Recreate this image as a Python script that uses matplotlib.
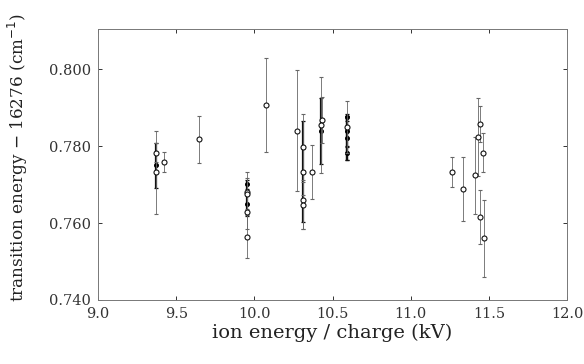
import matplotlib
matplotlib.use('Agg')
import matplotlib.pyplot as plt

# open circles, thin error bars
OPEN_X = [9.371, 9.371, 9.424, 9.644, 9.951, 9.951, 9.951, 9.951, 10.075,
          10.275, 10.313, 10.313, 10.313, 10.313, 10.371, 10.431, 10.424,
          10.591, 11.262, 11.337, 11.414, 11.429, 11.444, 11.461, 11.446, 11.467]
OPEN_Y = [0.7732, 0.7783, 0.7760, 0.7818, 0.7682, 0.7677, 0.7629, 0.7564, 0.7907,
          0.7841, 0.7798, 0.7733, 0.7660, 0.7646, 0.7733, 0.7868, 0.7856,
          0.7850, 0.7733, 0.7689, 0.7724, 0.7824, 0.7858, 0.7783, 0.7616, 0.7560]
OPEN_ERR = [0.0107, 0.0025, 0.0026, 0.0062, 0.0051, 0.0040, 0.0045, 0.0056, 0.0123,
            0.0157, 0.0087, 0.0060, 0.0076, 0.0062, 0.0071, 0.0060, 0.0125,
            0.0068, 0.0040, 0.0084, 0.0101, 0.0102, 0.0048, 0.0051, 0.0070, 0.0100]

# filled dots, heavy error bars
FILL_X = [9.371, 9.951, 9.951, 10.313, 10.428, 10.591, 10.591, 10.591, 10.591]
FILL_Y = [0.7750, 0.7701, 0.7649, 0.7734, 0.7840, 0.7875, 0.7839, 0.7822, 0.7783]
FILL_ERR = [0.0058, 0.0012, 0.0030, 0.0131, 0.0085, 0.0010, 0.0040, 0.0057, 0.0018]

XTICKS = [9.0, 9.5, 10.0, 10.5, 11.0, 11.5, 12.0]
YTICKS = [0.740, 0.760, 0.780, 0.800]

plt.rcParams['font.family'] = 'DejaVu Serif'

fig = plt.figure(figsize=(5.84, 3.64), dpi=100, facecolor='white')
ax = fig.add_axes([0.168, 0.176, 0.803, 0.744])

ax.errorbar(FILL_X, FILL_Y, yerr=FILL_ERR, fmt='o', ms=2.6, mfc='black', mec='black',
            ecolor='#111111', elinewidth=1.6, capsize=1.2, capthick=0.9, zorder=3)
ax.errorbar(OPEN_X, OPEN_Y, yerr=OPEN_ERR, fmt='o', ms=3.6, mfc='white', mec='#111111',
            mew=0.8, ecolor='#666666', elinewidth=0.6, capsize=1.6, capthick=0.9, zorder=4)

ax.set_xlim(9.0, 12.0)
ax.set_ylim(0.740, 0.8105)
ax.set_xticks(XTICKS)
ax.set_xticklabels([f"{v:.1f}" for v in XTICKS])
ax.set_yticks(YTICKS)
ax.set_yticklabels([f"{v:.3f}" for v in YTICKS])
ax.tick_params(direction='in', length=3, width=0.7, top=True, right=True,
               labelsize=10.5, pad=5, colors='#333333')
for s in ax.spines.values():
    s.set_color('#777777')
    s.set_linewidth(0.7)

ax.set_xlabel("ion energy / charge (kV)", fontsize=14, labelpad=2, color='#222222')
ax.set_ylabel("transition energy $-$ 16276 (cm$^{-1}$)", fontsize=12.2, color='#222222')
ax.yaxis.set_label_coords(-0.145, 0.525)

fig.savefig('out.png', dpi=100, facecolor='white')
